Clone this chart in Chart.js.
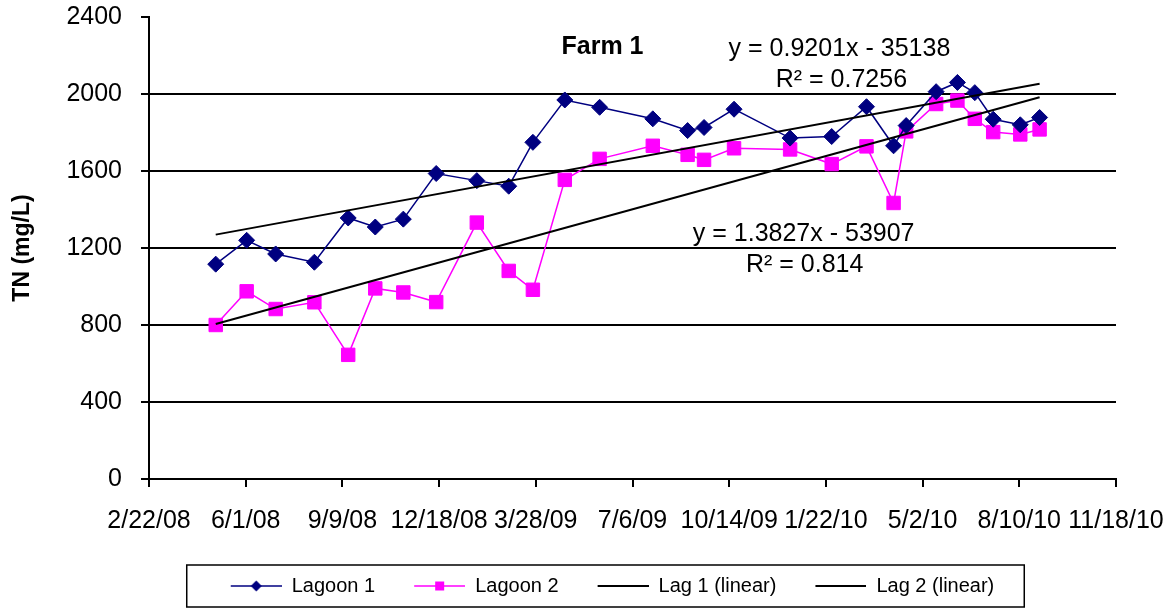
<!DOCTYPE html>
<html>
<head>
<meta charset="utf-8">
<title>Farm 1 – TN (mg/L)</title>
<script src="https://cdn.jsdelivr.net/npm/chart.js@4.4.1/dist/chart.umd.min.js"></script>
<style>
  html, body { margin: 0; padding: 0; background: #ffffff; }
  canvas { display: block; }
</style>
</head>
<body>
<canvas id="chart" width="1176" height="611"></canvas>
<script>
// Sampling dates (ISO) and total nitrogen readings for both lagoons
const sampleDates = [
  '2008-05-01', '2008-06-02', '2008-07-02', '2008-08-11', '2008-09-15', '2008-10-13',
  '2008-11-11', '2008-12-15', '2009-01-26', '2009-02-28', '2009-03-25', '2009-04-27',
  '2009-06-02', '2009-07-27', '2009-09-01', '2009-09-18', '2009-10-19', '2009-12-16',
  '2010-01-28', '2010-03-05', '2010-04-02', '2010-04-15', '2010-05-16', '2010-06-07',
  '2010-06-25', '2010-07-14', '2010-08-11', '2010-08-31'
];
const lagoon1TN = [
  1116, 1240, 1169, 1126, 1356, 1309, 1350, 1587, 1550, 1521, 1749, 1969,
  1931, 1871, 1810, 1826, 1921, 1771, 1779, 1934, 1731, 1836, 2012, 2060,
  2007, 1869, 1840, 1878
];
const lagoon2TN = [
  800, 975, 883, 918, 645, 990, 969, 919, 1332, 1081, 983, 1554,
  1663, 1731, 1684, 1658, 1718, 1712, 1636, 1728, 1434, 1806, 1948, 1966,
  1871, 1802, 1790, 1816
];

// Linear fits (x = spreadsheet date serial)
const lag1Fit = { slope: 0.9201, intercept: -35138, r2: '0.7256' };
const lag2Fit = { slope: 1.3827, intercept: -53907, r2: '0.814' };

// Axis ranges
const xAxisStart = '2008-02-22';
const xAxisEnd = '2010-11-18';
const xTickDays = 100;
const yMin = 0, yMax = 2400, yStep = 400;

const seriesNames = ['Lagoon 1', 'Lagoon 2', 'Lag 1 (linear)', 'Lag 2 (linear)'];
const chartTitle = 'Farm 1';
const yAxisTitle = 'TN (mg/L)';

// Date helpers: spreadsheet serial numbers (day 0 = 1899-12-30)
const SERIAL_EPOCH = Date.UTC(1899, 11, 30);
function toSerial(iso) {
  const [y, m, d] = iso.split('-').map(Number);
  return Math.round((Date.UTC(y, m - 1, d) - SERIAL_EPOCH) / 86400000);
}
function serialLabel(v) {
  const d = new Date(SERIAL_EPOCH + v * 86400000);
  return (d.getUTCMonth() + 1) + '/' + d.getUTCDate() + '/' + String(d.getUTCFullYear() % 100).padStart(2, '0');
}

const xs = sampleDates.map(toSerial);
const pts = vals => xs.map((x, i) => ({ x, y: vals[i] }));
const fitLine = f => [xs[0], xs[xs.length - 1]].map(x => ({ x, y: f.slope * x + f.intercept }));
const fitText = f => 'y = ' + f.slope + 'x ' + (f.intercept < 0 ? '- ' : '+ ') + Math.abs(f.intercept);

const NAVY = '#000080';
const MAGENTA = '#FF00FF';
const FONT = '"Liberation Sans", Arial, Helvetica, sans-serif';

// Annotation anchors in data space: [date serial, TN value]
const titleAnchor = [39969, 2206];
const fit1Anchor = [40214, 2197];
const fit1R2Anchor = [40216, 2038];
const fit2Anchor = [40177, 1238];
const fit2R2Anchor = [40178, 1077];

// Legend swatches: short line with the series marker in the middle
const swatchLead = 29;
function makeSwatch(color, marker, lw) {
  const c = document.createElement('canvas');
  c.width = 80; c.height = 16;
  const g = c.getContext('2d');
  g.strokeStyle = color; g.lineWidth = lw;
  g.beginPath(); g.moveTo(swatchLead, 8); g.lineTo(80, 8); g.stroke();
  g.fillStyle = color;
  const cx = swatchLead + 25.5;
  if (marker === 'diamond') {
    g.beginPath(); g.moveTo(cx, 2.5); g.lineTo(cx + 5.5, 8); g.lineTo(cx, 13.5); g.lineTo(cx - 5.5, 8); g.closePath(); g.fill();
  } else if (marker === 'square') {
    g.fillRect(cx - 4.5, 3.5, 9, 9);
  }
  return c;
}
const swatches = [
  makeSwatch(NAVY, 'diamond', 1.5),
  makeSwatch(MAGENTA, 'square', 1.5),
  makeSwatch('#000', null, 2),
  makeSwatch('#000', null, 2)
];

const legendShiftX = 40;

const annotations = {
  id: 'farmAnnotations',
  afterLayout(chart) {
    chart.legend.left += legendShiftX;
    chart.legend.right += legendShiftX;
  },
  afterDatasetsDraw(chart) {
    const { ctx, scales: { x, y } } = chart;
    const at = a => [x.getPixelForValue(a[0]), y.getPixelForValue(a[1])];
    ctx.save();
    ctx.fillStyle = '#000';
    ctx.textAlign = 'center';
    ctx.textBaseline = 'alphabetic';
    ctx.font = 'bold 25px ' + FONT;
    ctx.fillText(chartTitle, ...at(titleAnchor));
    ctx.font = '25px ' + FONT;
    ctx.fillText(fitText(lag1Fit), ...at(fit1Anchor));
    ctx.fillText('R\u00B2 = ' + lag1Fit.r2, ...at(fit1R2Anchor));
    ctx.fillText(fitText(lag2Fit), ...at(fit2Anchor));
    ctx.fillText('R\u00B2 = ' + lag2Fit.r2, ...at(fit2R2Anchor));
    ctx.restore();
  },
  afterDraw(chart) {
    // Frame around the legend row
    const lg = chart.legend;
    const boxes = lg.legendHitBoxes;
    if (!boxes || !boxes.length) return;
    const first = boxes[0], last = boxes[boxes.length - 1];
    const left = first.left + swatchLead - 44;
    const right = last.left + last.width + 30;
    const ctx = chart.ctx;
    ctx.save();
    ctx.strokeStyle = '#000';
    ctx.lineWidth = 1.5;
    ctx.strokeRect(left, lg.top - 1, right - left, lg.bottom - lg.top + 2);
    ctx.restore();
  }
};

Chart.defaults.font.family = FONT;
Chart.defaults.color = '#000';

new Chart(document.getElementById('chart'), {
  type: 'line',
  data: {
    datasets: [
      {
        label: seriesNames[0], data: pts(lagoon1TN), order: 2,
        borderColor: NAVY, borderWidth: 1.5, backgroundColor: NAVY,
        pointStyle: 'rectRot', pointRadius: 8, pointBorderColor: NAVY, pointBackgroundColor: NAVY,
        pointBorderWidth: 1, tension: 0, fill: false
      },
      {
        label: seriesNames[1], data: pts(lagoon2TN), order: 3,
        borderColor: MAGENTA, borderWidth: 1.5, backgroundColor: MAGENTA,
        pointStyle: 'rect', pointRadius: 9.5, pointBorderColor: MAGENTA, pointBackgroundColor: MAGENTA,
        pointBorderWidth: 1, tension: 0, fill: false
      },
      {
        label: seriesNames[2], data: fitLine(lag1Fit), order: 1,
        borderColor: '#000', borderWidth: 2, pointRadius: 0, tension: 0, fill: false
      },
      {
        label: seriesNames[3], data: fitLine(lag2Fit), order: 1,
        borderColor: '#000', borderWidth: 2, pointRadius: 0, tension: 0, fill: false
      }
    ]
  },
  options: {
    responsive: false,
    animation: false,
    devicePixelRatio: 1,
    layout: { padding: { top: 17, right: 60, bottom: 5, left: 0 } },
    plugins: {
      tooltip: { enabled: false },
      title: { display: false },
      legend: {
        display: true,
        position: 'bottom',
        labels: {
          usePointStyle: true,
          pointStyleWidth: 80,
          padding: 10,
          color: '#000',
          font: { size: 20, family: FONT },
          generateLabels: chart => chart.data.datasets.map((ds, i) => ({
            text: ds.label,
            pointStyle: swatches[i],
            datasetIndex: i,
            hidden: false,
            lineWidth: 0,
            fillStyle: 'rgba(0,0,0,0)',
            strokeStyle: 'rgba(0,0,0,0)',
            fontColor: '#000'
          }))
        }
      }
    },
    scales: {
      x: {
        type: 'linear',
        min: toSerial(xAxisStart),
        max: toSerial(xAxisEnd),
        afterFit: s => { s.height = 87; s.paddingLeft = 0; s.paddingRight = 0; },
        ticks: {
          stepSize: xTickDays,
          autoSkip: false,
          maxRotation: 0,
          minRotation: 0,
          padding: 19,
          color: '#000',
          font: { size: 25, family: FONT },
          callback: v => serialLabel(v)
        },
        grid: { drawOnChartArea: false, drawTicks: true, tickLength: 8, color: '#000', tickColor: '#000', lineWidth: 2 },
        border: { display: true, color: '#000', width: 2 }
      },
      y: {
        min: yMin,
        max: yMax,
        afterFit: s => { s.width = 149; s.paddingTop = 0; s.paddingBottom = 0; },
        ticks: {
          stepSize: yStep,
          padding: 19,
          color: '#000',
          font: { size: 25, family: FONT },
          callback: v => String(v)
        },
        grid: {
          drawTicks: true,
          tickLength: 8,
          lineWidth: 2,
          tickColor: '#000',
          color: c => (c.tick && c.tick.value === yMax) ? 'rgba(0,0,0,0)' : '#000'
        },
        border: { display: true, color: '#000', width: 2 },
        title: {
          display: true,
          text: yAxisTitle,
          color: '#000',
          font: { size: 23, weight: 'bold', family: FONT },
          padding: { top: 9, bottom: 0 }
        }
      }
    }
  },
  plugins: [annotations]
});
</script>
</body>
</html>
